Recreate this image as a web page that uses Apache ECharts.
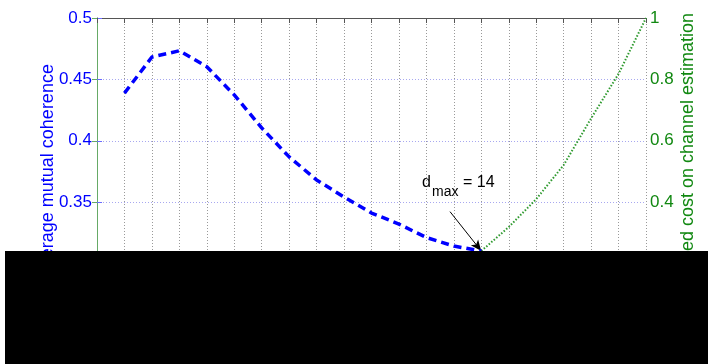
<!DOCTYPE html>
<html>
<head>
<meta charset="utf-8">
<script src="https://cdn.jsdelivr.net/npm/echarts@6/dist/echarts.min.js"></script>
<style>
html,body{margin:0;padding:0;background:#fff;}
#chart{width:708px;height:364px;}
</style>
</head>
<body>
<div id="chart"></div>
<script>
// ---- data ----
const dCoherence = [1, 2, 3, 4, 5, 6, 7, 8, 9, 10, 11, 12, 13, 14];
const coherence = [0.4388, 0.4682, 0.4733, 0.4603, 0.4374, 0.4105, 0.3869, 0.3681, 0.3542, 0.3412, 0.3322, 0.3212, 0.3143, 0.3102];
const dCost = [14, 15, 16, 17, 18, 19, 20];
const cost = [0.241, 0.319, 0.410, 0.521, 0.673, 0.818, 1.0];
const xRange = [0, 20, 1];
const leftRange = [0.25, 0.5, 0.05];
const rightRange = [0, 1, 0.2];
const leftName = 'Average mutual coherence';
const rightName = 'Normalized cost on channel estimation';
const dmax = 14;
const arrowStart = [12.86, 0.3423];

const FONT = '"Liberation Sans", Arial, sans-serif';
const BLUE = '#0000ff';
const GREEN = '#118811';

const chart = echarts.init(document.getElementById('chart'), null, {renderer: 'canvas'});
const cohData = dCoherence.map((d, i) => [d, coherence[i]]);
const costData = dCost.map((d, i) => [d, cost[i]]);
const dmaxIdx = dCoherence.indexOf(dmax);

chart.setOption({
  animation: false,
  backgroundColor: '#ffffff',
  grid: {left: 97, right: 62, top: 18, bottom: 39},
  xAxis: [
    {
      type: 'value', position: 'bottom', min: xRange[0], max: xRange[1], interval: xRange[2],
      axisLine: {show: true, lineStyle: {color: '#444'}},
      axisTick: {show: true, inside: true, length: 5, lineStyle: {color: '#444'}},
      axisLabel: {show: true, color: '#000', fontFamily: FONT, fontSize: 17},
      splitLine: {show: true, lineStyle: {color: '#999', type: [1, 2], width: 1}}
    },
    {
      type: 'value', position: 'top', min: xRange[0], max: xRange[1], interval: xRange[2],
      axisLine: {show: true, lineStyle: {color: '#555'}},
      axisTick: {show: true, inside: true, length: 5, lineStyle: {color: '#555'}},
      axisLabel: {show: false},
      splitLine: {show: false}
    }
  ],
  yAxis: [
    {
      type: 'value', position: 'left', min: leftRange[0], max: leftRange[1], interval: leftRange[2],
      name: leftName, nameLocation: 'middle', nameGap: 40, nameRotate: 90, nameMoveOverlap: false,
      nameTextStyle: {color: BLUE, fontFamily: FONT, fontSize: 18},
      axisLine: {show: true, lineStyle: {color: '#6b6bff'}},
      axisTick: {show: true, inside: true, length: 5, lineStyle: {color: '#6b6bff'}},
      axisLabel: {color: BLUE, fontFamily: FONT, fontSize: 17, margin: 5},
      splitLine: {show: true, lineStyle: {color: '#a8a8f0', type: [1, 2], width: 1}}
    },
    {
      type: 'value', position: 'right', min: rightRange[0], max: rightRange[1], interval: rightRange[2],
      name: rightName, nameLocation: 'middle', nameGap: 33, nameRotate: 90, nameMoveOverlap: false,
      nameTextStyle: {color: GREEN, fontFamily: FONT, fontSize: 18, padding: [0, 0, 0, 8]},
      axisLine: {show: true, lineStyle: {color: '#66aa66'}},
      axisTick: {show: true, inside: true, length: 5, lineStyle: {color: '#66aa66'}},
      axisLabel: {color: GREEN, fontFamily: FONT, fontSize: 17, margin: 4},
      splitLine: {show: false}
    }
  ],
  series: [
    {
      type: 'line', xAxisIndex: 0, yAxisIndex: 0, data: cohData,
      showSymbol: false, symbol: 'none',
      lineStyle: {color: BLUE, width: 3.5, type: [8, 5]},
      z: 5,
      markLine: {
        silent: true, animation: false,
        symbol: ['none', 'arrow'], symbolSize: [7, 11],
        label: {show: false},
        lineStyle: {color: '#000', width: 1, type: 'solid'},
        data: [[{coord: arrowStart}, {coord: [dmax, coherence[dmaxIdx]]}]]
      }
    },
    {
      type: 'line', xAxisIndex: 0, yAxisIndex: 1, data: costData,
      showSymbol: false, symbol: 'none',
      lineStyle: {color: '#2f9a2f', width: 2, type: [1.5, 1.8]},
      z: 4
    }
  ],
  graphic: [
    {type: 'text', left: 422, top: 175, z: 50, style: {text: 'd', fill: '#000', font: '16px ' + FONT}},
    {type: 'text', left: 432, top: 185, z: 50, style: {text: 'max', fill: '#000', font: '14px ' + FONT}},
    {type: 'text', left: 463, top: 175, z: 50, style: {text: '= 14', fill: '#000', font: '16px ' + FONT}},
    {type: 'rect', left: 5, top: 251, z: 100, shape: {width: 703, height: 113}, style: {fill: '#000'}}
  ]
});
</script>
</body>
</html>
